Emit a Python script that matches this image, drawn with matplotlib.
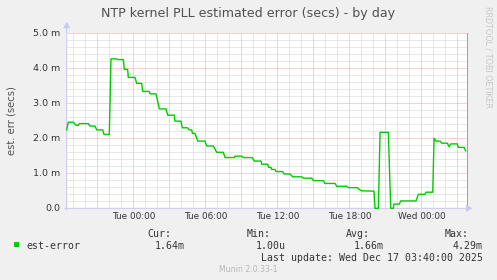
import matplotlib
matplotlib.use("Agg")
import matplotlib.pyplot as plt
from matplotlib.ticker import MultipleLocator

# ---- data (hours relative to Tue 00:00, value in milliseconds) ----
hours = [-5.55, -5.42, -5.00, -4.78, -4.58, -4.50, -3.75, -3.61, -3.19, -3.05,
         -2.55, -2.44, -2.00, -1.86, -1.38, -1.33, -0.83, -0.75, -0.47, -0.42,
         0.14, 0.28, 0.70, 0.78, 1.33, 1.39, 1.89, 2.17, 2.72, 2.87,
         3.42, 3.47, 3.97, 4.08, 4.53, 4.64, 4.87, 4.92, 5.14, 5.37,
         5.97, 6.12, 6.67, 6.95, 7.50, 7.64, 8.42, 8.47, 9.03, 9.17,
         9.92, 10.08, 10.64, 10.70, 11.20, 11.28, 11.47, 11.53, 11.81, 11.89,
         12.45, 12.56, 13.06, 13.28, 14.03, 14.17, 14.87, 15.00, 15.83, 15.97,
         16.81, 16.97, 17.22, 17.78, 17.92, 18.67, 18.83, 19.03, 20.06, 20.14,
         20.42, 20.56, 21.25, 21.45, 21.67, 21.72, 22.17, 22.28, 23.56, 23.75,
         24.31, 24.39, 24.95, 25.06, 25.22, 25.56, 25.70, 26.17, 26.31, 26.45,
         27.00, 27.08, 27.56, 27.70]
est_error = [2.24, 2.46, 2.46, 2.37, 2.37, 2.42, 2.42, 2.35, 2.35, 2.24,
             2.24, 2.11, 2.11, 4.27, 4.27, 4.25, 4.25, 3.97, 3.97, 3.74,
             3.74, 3.57, 3.57, 3.34, 3.34, 3.27, 3.27, 2.84, 2.84, 2.66,
             2.66, 2.49, 2.49, 2.30, 2.30, 2.24, 2.24, 2.14, 2.14, 1.92,
             1.92, 1.78, 1.78, 1.60, 1.60, 1.45, 1.45, 1.49, 1.49, 1.45,
             1.45, 1.35, 1.35, 1.26, 1.26, 1.17, 1.17, 1.11, 1.11, 1.05,
             1.05, 0.98, 0.98, 0.90, 0.90, 0.86, 0.86, 0.79, 0.79, 0.71,
             0.71, 0.62, 0.63, 0.63, 0.59, 0.59, 0.54, 0.50, 0.49, 0.00,
             0.00, 2.17, 2.17, 0.00, 0.00, 0.12, 0.12, 0.21, 0.21, 0.40,
             0.40, 0.46, 0.46, 2.00, 1.92, 1.92, 1.86, 1.86, 1.76, 1.84,
             1.84, 1.74, 1.74, 1.64]

x_range = [-5.55, 27.78]
y_range = [0.0, 5.0]
x_tick_hours = [0, 6, 12, 18, 24]
x_tick_labels = ["Tue 00:00", "Tue 06:00", "Tue 12:00", "Tue 18:00", "Wed 00:00"]
y_tick_values = [0, 1, 2, 3, 4, 5]
y_tick_labels = ["0.0", "1.0 m", "2.0 m", "3.0 m", "4.0 m", "5.0 m"]

title = "NTP kernel PLL estimated error (secs) - by day"
y_label = "est. err (secs)"
series_name = "est-error"
legend_heads = ["Cur:", "Min:", "Avg:", "Max:"]
legend_vals = ["1.64m", "1.00u", "1.66m", "4.29m"]
last_update = "Last update: Wed Dec 17 03:40:00 2025"
footer = "Munin 2.0.33-1"
side_text = "RRDTOOL / TOBI OETIKER"

# ---- style ----
W, H = 497, 280
BG = "#F0F0F0"
TXT = "#333333"
LINE = "#00CC00"
GRID = "#D2D2D2"
MGRID = "#EDA6A6"
AXIS = "#C8C8F8"

plt.rcParams["font.family"] = ["DejaVu Sans"]

fig = plt.figure(figsize=(W / 100, H / 100), dpi=100, facecolor=BG)

def fx(px):
    return px / W

def fy(py):
    return 1 - py / H

L, R, T, B = 66.7, 466.7, 33.3, 208.3
ax = fig.add_axes([fx(L), fy(B), (R - L) / W, (B - T) / H])
ax.set_facecolor("white")
ax.set_xlim(*x_range)
ax.set_ylim(*y_range)

# grids
px1 = 0.72
ax.xaxis.set_minor_locator(MultipleLocator(1))
ax.xaxis.set_major_locator(MultipleLocator(3))
ax.yaxis.set_minor_locator(MultipleLocator(0.2))
ax.yaxis.set_major_locator(MultipleLocator(1))
ax.grid(which="minor", color=GRID, linestyle=(0, (1, 1)), linewidth=px1)
ax.grid(which="major", color=MGRID, linestyle=(0, (1, 1)), linewidth=px1)
ax.set_axisbelow(True)
ax.tick_params(which="both", length=0, labelbottom=False, labelleft=False)

for s in ["top", "left", "bottom"]:
    ax.spines[s].set_visible(False)
ax.spines["right"].set_color("#A0A0A0")
ax.spines["right"].set_linewidth(px1)

# tick labels
for hv, lab in zip(x_tick_hours, x_tick_labels):
    ax.annotate(lab, xy=(hv, 0), xycoords=("data", "axes fraction"),
                xytext=(0, -3.0), textcoords="offset points",
                ha="center", va="top", fontsize=6.4, color=TXT)
for yv, lab in zip(y_tick_values, y_tick_labels):
    ax.annotate(lab, xy=(0, yv), xycoords=("axes fraction", "data"),
                xytext=(-4.8, 0), textcoords="offset points",
                ha="right", va="center", fontsize=6.8, color=TXT)

# axes lines with arrows
ax.annotate("", xy=(1.014, 0), xycoords="axes fraction", xytext=(-0.005, 0),
            arrowprops=dict(arrowstyle="-|>,head_length=0.35,head_width=0.2",
                            color=AXIS, lw=px1, shrinkA=0, shrinkB=0))
ax.annotate("", xy=(0, 1.065), xycoords="axes fraction", xytext=(0, -0.01),
            arrowprops=dict(arrowstyle="-|>,head_length=0.35,head_width=0.2",
                            color=AXIS, lw=px1, shrinkA=0, shrinkB=0))

# data line
ax.plot(hours, est_error, color=LINE, linewidth=1.0, clip_on=False, zorder=5)

# texts
fig.text(fx(248), fy(13.5), title, ha="center", va="center", fontsize=9.1,
         color="#505050")
fig.text(fx(12), fy(121), y_label, ha="center", va="center", rotation=90,
         fontsize=7.2, color="#505050")
fig.text(fx(488), fy(6), side_text, ha="center", va="top", rotation=270,
         fontsize=5.8, color="#C8C8C8")

mono = "DejaVu Sans Mono"
fig.patches.append(plt.Rectangle((fx(14), fy(247)), 5.3 / W, 5.3 / H,
                                 transform=fig.transFigure, facecolor=LINE,
                                 edgecolor="none"))
fig.text(fx(26.7), fy(245.7), series_name, ha="left", va="center",
         family=mono, fontsize=7.1, color=TXT)
head_right = [171, 270.7, 370, 469]
val_right = [185, 286, 384, 483]
for hx, vx, h_, v_ in zip(head_right, val_right, legend_heads, legend_vals):
    fig.text(fx(hx), fy(233.7), h_, ha="right", va="center", family=mono,
             fontsize=7.1, color=TXT)
    fig.text(fx(vx), fy(245.7), v_, ha="right", va="center", family=mono,
             fontsize=7.1, color=TXT)
fig.text(fx(483), fy(257.7), last_update, ha="right", va="center",
         family=mono, fontsize=7.1, color=TXT)
fig.text(fx(248.5), fy(269.3), footer, ha="center", va="center",
         fontsize=5.6, color="#B8B8B8")

fig.savefig("out.png", dpi=100, facecolor=BG)
